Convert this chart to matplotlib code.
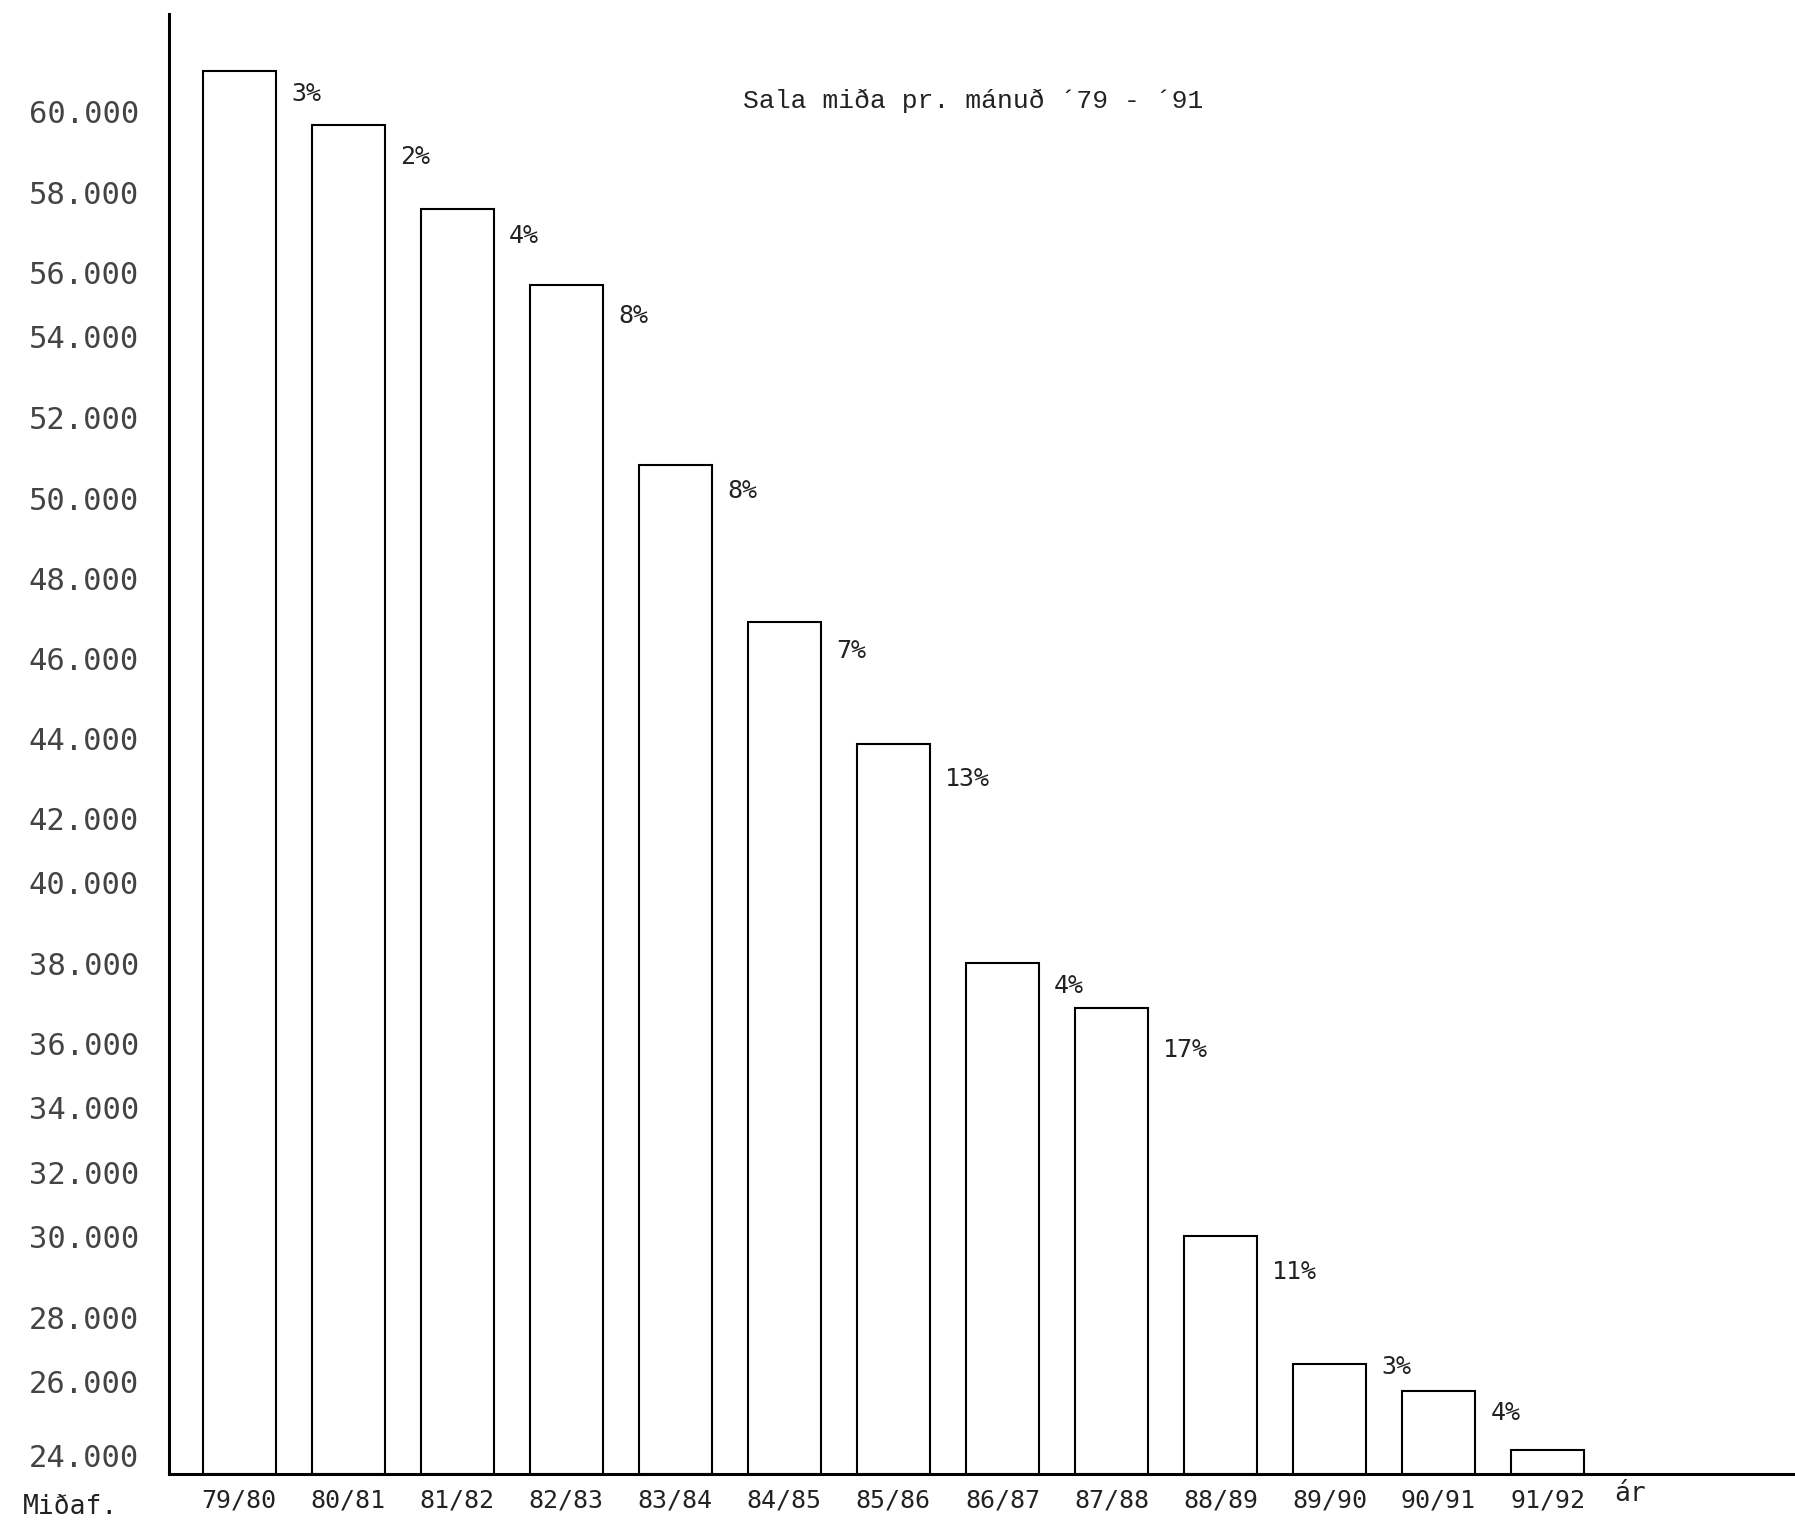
import numpy as np
import matplotlib
matplotlib.use("Agg")
import matplotlib.pyplot as plt

# ---- data ----
seasons = ["79/80", "80/81", "81/82", "82/83", "83/84", "84/85", "85/86",
           "86/87", "87/88", "88/89", "89/90", "90/91", "91/92"]
tickets = [61000, 59650, 57600, 55600, 50830, 46900, 43850,
           38030, 36900, 30000, 26540, 25750, 24150]
pct_labels = ["3%", "2%", "4%", "8%", "8%", "7%", "13%",
              "4%", "17%", "11%", "3%", "4%", ""]
ytick_vals = [24000, 26000, 28000, 30000, 32000, 34000, 36000, 38000, 40000,
              42000, 44000, 46000, 48000, 50000, 52000, 54000, 56000, 58000, 60000]
ytick_labels = ["24.000", "26.000", "28.000", "30.000", "32.000", "34.000",
                "36.000", "38.000", "40.000", "42.000", "44.000", "46.000",
                "48.000", "50.000", "52.000", "54.000", "56.000", "58.000", "60.000"]
title = "Sala miða pr. mánuð ´79 - ´91"

# ---- layout ----
# hand-drawn (uneven) spacing of the value axis, relative positions of the ticks
tick_pos = -np.array([1272, 1207, 1151, 1080, 1024, 968, 912, 842, 771,
                      715, 645, 575, 505, 435, 365, 294, 238, 168, 97], float)
# vertical offsets (points) of the percentage notes below each bar top
label_dy = [17, 23, 20, 22, 19, 21, 25, 17, 30, 26, 2, 16, 0]

tv = np.array(ytick_vals, float)

def fwd(v):
    v = np.asarray(v, float)
    out = np.interp(v, tv, tick_pos)
    s_lo = (tick_pos[1] - tick_pos[0]) / (tv[1] - tv[0])
    s_hi = (tick_pos[-1] - tick_pos[-2]) / (tv[-1] - tv[-2])
    out = np.where(v < tv[0], tick_pos[0] + (v - tv[0]) * s_lo, out)
    out = np.where(v > tv[-1], tick_pos[-1] + (v - tv[-1]) * s_hi, out)
    return out

def inv(p):
    p = np.asarray(p, float)
    out = np.interp(p, tick_pos, tv)
    s_lo = (tv[1] - tv[0]) / (tick_pos[1] - tick_pos[0])
    s_hi = (tv[-1] - tv[-2]) / (tick_pos[-1] - tick_pos[-2])
    out = np.where(p < tick_pos[0], tv[0] + (p - tick_pos[0]) * s_lo, out)
    out = np.where(p > tick_pos[-1], tv[-1] + (p - tick_pos[-1]) * s_hi, out)
    return out

W, H = 1568.0, 1333.0
fig = plt.figure(figsize=(17.95, 15.26), dpi=100)
fig.patch.set_facecolor("white")
ax = fig.add_axes([148 / W, 1 - 1288 / H, 1 - 148 / W, (1288 - 12) / H])
ax.set_yscale("function", functions=(fwd, inv))

base = 23500
ytop = 62400
x = np.arange(len(seasons))
vals = np.array(tickets, float)
ax.bar(x, vals - base, bottom=base, width=0.67, facecolor="white",
       edgecolor="black", linewidth=1.5)

ax.set_xlim(-0.64, 14.27)
ax.set_ylim(base, ytop)

mono = "DejaVu Sans Mono"
ax.set_yticks(ytick_vals)
ax.set_yticklabels(ytick_labels, fontsize=22, family=mono, color="#444444")
ax.tick_params(axis="y", length=0, pad=22)
ax.set_xticks(x)
ax.set_xticklabels(seasons, fontsize=18, family=mono, color="#222222")
ax.tick_params(axis="x", length=0, pad=10)

for s in ["top", "right"]:
    ax.spines[s].set_visible(False)
ax.spines["left"].set_linewidth(2.2)
ax.spines["bottom"].set_linewidth(2.2)

for xi, v, lab, dy in zip(x, vals, pct_labels, label_dy):
    if lab:
        ax.annotate(lab, xy=(xi + 0.335, v), xytext=(11, -dy),
                    textcoords="offset points", ha="left", va="center",
                    fontsize=18, family=mono, color="#222222")

fig.text(1410 / W, 1 - 1305 / H, "ár", ha="left", va="center",
         fontsize=19, family=mono, color="#222222")
fig.text(20 / W, 1 - 1316 / H, "Miðaf.", ha="left", va="center",
         fontsize=19, family=mono, color="#222222")
fig.text(850 / W, 1 - 88 / H, title, ha="center", va="center",
         fontsize=19, family="Liberation Mono", color="#222222")

fig.savefig("out.png", dpi=100, facecolor="white")
